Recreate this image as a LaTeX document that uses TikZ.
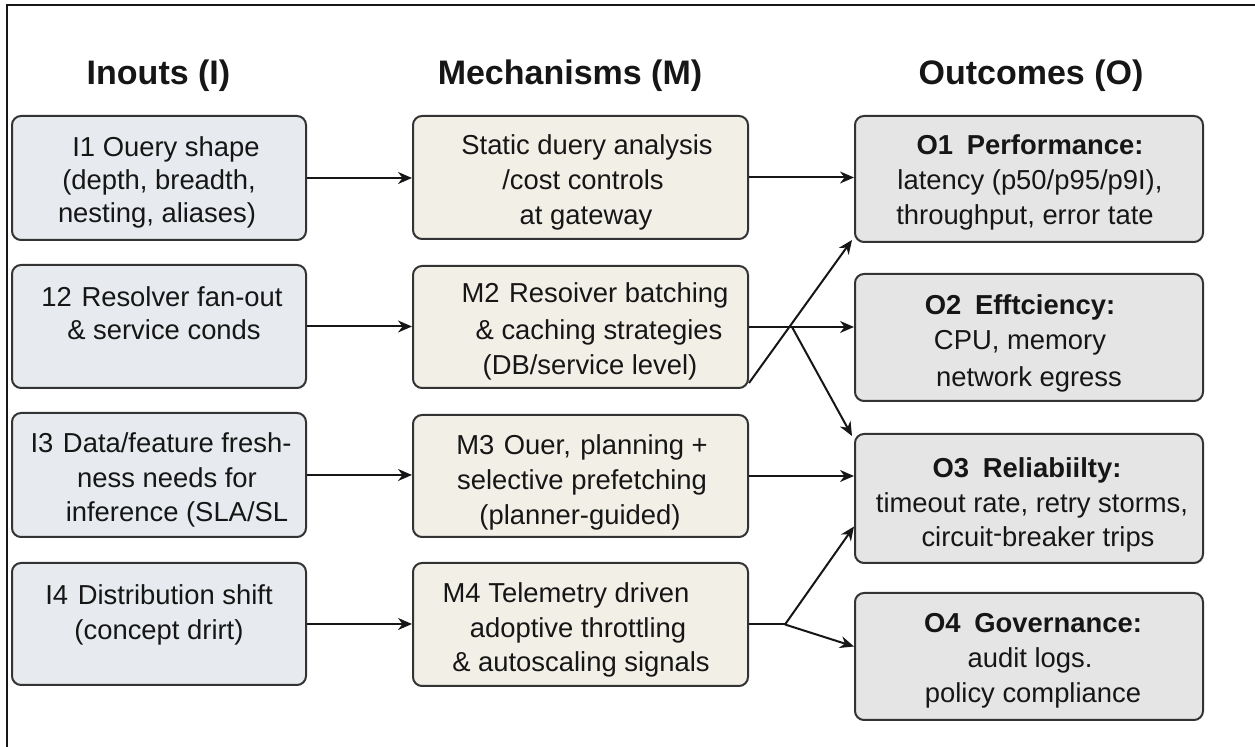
\documentclass[tikz,border=0pt]{standalone}
\usepackage{fontspec}
\setmainfont{Liberation Sans}
\usetikzlibrary{arrows.meta,calc}
\definecolor{inbg}{HTML}{E7EAEE}
\definecolor{mechbg}{HTML}{F2EFE7}
\definecolor{outbg}{HTML}{E5E5E5}
\definecolor{edge}{HTML}{333333}
\definecolor{ink}{HTML}{161616}
\begin{document}
\begin{tikzpicture}[x=0.5pt,y=-0.5pt,
  box/.style={draw=edge, line width=1pt, rounded corners=4.5pt, inner sep=0pt},
  inbox/.style={box, fill=inbg, minimum width=147pt},
  mbox/.style={box, fill=mechbg, minimum width=167.5pt},
  obox/.style={box, fill=outbg, minimum width=174pt},
  head/.style={font=\fontsize{17}{20}\selectfont\bfseries, anchor=base, inner sep=0pt, text=ink},
  txt/.style={font=\fontsize{13.7}{16}\selectfont, anchor=base, inner sep=0pt, text=ink},
  ttl/.style={txt, font=\fontsize{13.7}{16}\selectfont\bfseries},
  arr/.style={draw=ink, line width=1pt, -{Stealth[length=7pt,width=6pt]}},
  link/.style={draw=ink, line width=1pt},
  frame/.style={draw=ink, line width=1pt},
]
\useasboundingbox (0,0) rectangle (1255,747);

% outer frame: left and top edges only
\coordinate (fb) at (7,747);
\coordinate (fc) at (7,5);
\coordinate (fr) at (1255,5);
\draw[frame] (fb) -- (fc) -- (fr);

% column headings
\node[head] (hI) at (158.5,85) {Inouts (I)};
\node[head] (hM) at (570,85) {Mechanisms (M)};
\node[head] (hO) at (1031,85) {Outcomes (O)};

% input boxes
\node[inbox, minimum height=62pt]   (i1) at (159,178) {};
\node[inbox, minimum height=61.5pt] (i2) at (159,326.5) {};
\node[inbox, minimum height=62pt]   (i3) at (159,475) {};
\node[inbox, minimum height=61pt]   (i4) at (159,624) {};

% mechanism boxes
\node[mbox, minimum height=61.5pt] (m1) at (580.5,177.5) {};
\node[mbox, minimum height=61pt]   (m2) at (580.5,327) {};
\node[mbox, minimum height=61pt]   (m3) at (580.5,476) {};
\node[mbox, minimum height=61.5pt] (m4) at (580.5,624.5) {};

% outcome boxes
\node[obox, minimum height=63pt]   (o1) at (1029,179) {};
\node[obox, minimum height=63.5pt] (o2) at (1029,337.5) {};
\node[obox, minimum height=64.5pt] (o3) at (1029,498.5) {};
\node[obox, minimum height=63.5pt] (o4) at (1029,656.5) {};

% input texts
\node[txt] (i1a) at (166,157) {I1 Ouery shape};
\node[txt] (i1b) at (159,190) {(depth, breadth,};
\node[txt] (i1c) at (157,223) {nesting, aliases)};
\node[txt] (i2a) at (162,307) {12\hspace{0.35em}Resolver fan-out};
\node[txt] (i2b) at (164,340) {\& service conds};
\node[txt] (i3a) at (161,453) {I3\hspace{0.35em}Data/feature fresh-};
\node[txt] (i3b) at (167,488) {ness needs for};
\node[txt] (i3c) at (177,522) {inference (SLA/SL};
\node[txt] (i4a) at (159,605) {I4\hspace{0.35em}Distribution shift};
\node[txt] (i4b) at (159,640) {(concept drirt)};

% mechanism texts
\node[txt] (m1a) at (587,155) {Static duery analysis};
\node[txt] (m1b) at (583,190) {/cost controls};
\node[txt] (m1c) at (586,225) {at gateway};
\node[txt] (m2a) at (595,303) {M2\hspace{0.35em}Resoiver batching};
\node[txt] (m2b) at (599,340) {\& caching strategies};
\node[txt] (m2c) at (590,375) {(DB/service level)};
\node[txt] (m3a) at (582,455) {M3\hspace{0.35em}Ouer,\hspace{0.35em}planning +};
\node[txt] (m3b) at (582,490) {selective prefetching};
\node[txt] (m3c) at (580,525) {(planner-guided)};
\node[txt] (m4a) at (566,603) {M4 Telemetry driven};
\node[txt] (m4b) at (578,638) {adoptive throttling};
\node[txt] (m4c) at (581,672) {\& autoscaling signals};

% outcome texts
\node[ttl] (o1a) at (1030,155) {O1\hspace{0.5em}Performance:};
\node[txt] (o1b) at (1030,190) {latency (p50/p95/p9I),};
\node[txt] (o1c) at (1025,225) {throughput, error tate};
\node[ttl] (o2a) at (1020,315) {O2\hspace{0.5em}Efftciency:};
\node[txt] (o2b) at (1020,350) {CPU, memory};
\node[txt] (o2c) at (1029,387) {network egress};
\node[ttl] (o3a) at (1027,478) {O3\hspace{0.5em}Reliabiilty:};
\node[txt] (o3b) at (1032,513) {timeout rate, retry storms,};
\node[txt] (o3c) at (1038,547) {circuit\raisebox{0.3ex}{-}breaker trips};
\node[ttl] (o4a) at (1033,633) {O4\hspace{0.5em}Governance:};
\node[txt] (o4b) at (1030,668) {audit logs.};
\node[txt] (o4c) at (1033,703) {policy compliance};

% inputs to mechanisms
\draw[arr] (i1.east) -- (i1.east -| m1.west);
\draw[arr] (i2.east) -- (i2.east -| m2.west);
\draw[arr] (i3.east) -- (i3.east -| m3.west);
\draw[arr] (i4.east) -- (i4.east -| m4.west);

% mechanisms to outcomes
\draw[arr] (m1.east) -- (m1.east -| o1.west);
\draw[arr] (m2.east) -- (m2.east -| o2.west);
\draw[arr] (m3.east) -- (m3.east -| o3.west);

% crossing links leaving M2
\coordinate (x2) at (792,327);
\draw[arr] ($(m2.south east)+(0,-6)$) -- ($(o1.south west)+(-2,-3)$);
\draw[arr] (x2) -- ($(o3.north west)+(-2,3)$);

% M4 forks to O3 and O4
\coordinate (b4) at (785,624.5);
\draw[link] (m4.east) -- (b4);
\draw[arr] (b4) -- ($(o3.west)+(0,28)$);
\draw[arr] (b4) -- ($(o4.west)+(0,-10)$);
\end{tikzpicture}
\end{document}
